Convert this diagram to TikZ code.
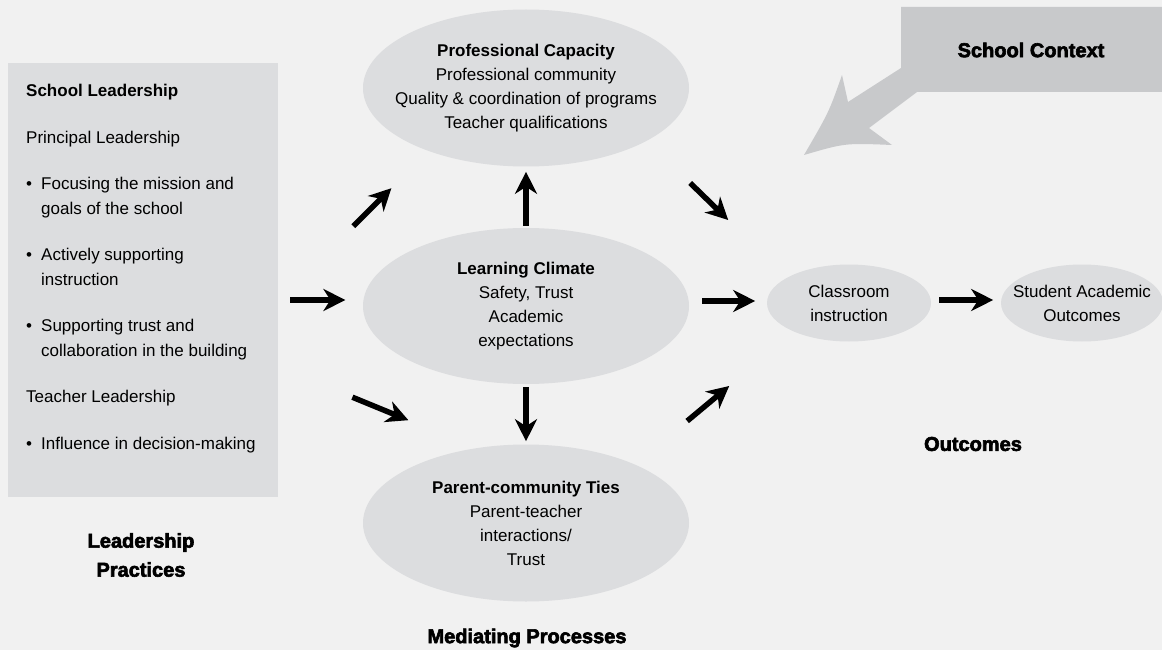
\documentclass[tikz,border=0pt]{standalone}
\usepackage{fontspec}
\setmainfont{Liberation Sans}
\newfontfamily\heavyfont{Liberation Sans}[BoldFeatures={FakeBold=3}]
\usetikzlibrary{shapes.geometric,arrows.meta}
\definecolor{bggray}{HTML}{F1F1F1}
\definecolor{ovalgray}{HTML}{DCDDDF}
\definecolor{ctxgray}{HTML}{C8C9CB}
\tikzset{oval/.style={ellipse,fill=ovalgray,inner sep=0pt}}
\tikzset{lbox/.style={fill=ovalgray,inner sep=0pt}}
\tikzset{txt/.style={align=center,inner sep=0pt,font=\fontsize{17}{24}\selectfont}}
\tikzset{head/.style={align=center,inner sep=0pt,font=\heavyfont\bfseries\fontsize{20}{29}\selectfont}}
\tikzset{flow/.style={line width=5.5pt,-{Stealth[length=22pt,width=22pt,inset=7pt]}}}
\newcommand\bul{\makebox[15pt][l]{\textbullet}}

\begin{document}
\begin{tikzpicture}[x=1pt,y=-1pt]
    \fill[bggray] (0,0) rectangle (1162,650);
    \useasboundingbox (0,0) rectangle (1162,650);

    % school context
    \fill[ctxgray] (1162,7) -- (901,7) -- (901,68) -- (848,102) -- (842,75)
      .. controls (829,112) .. (804,155) .. controls (845,143) .. (892,145)
      -- (869,128) -- (917,92) -- (1162,92) -- cycle;
    \node[head] (ctxhead) at (1031,50) {School Context};

    % leadership practices
    \node[lbox, anchor=north west, minimum width=270, minimum height=434] (box) at (8,63) {};
    \node[anchor=north west, inner sep=0pt, align=left, font=\fontsize{17}{24.5}\selectfont] (boxtext) at (26,84) {%
      \textbf{School Leadership}\\[22pt]
      Principal Leadership\\[22pt]
      \bul Focusing the mission and\\
      \hspace*{15pt}goals of the school\\[22pt]
      \bul Actively supporting\\
      \hspace*{15pt}instruction\\[22pt]
      \bul Supporting trust and\\
      \hspace*{15pt}collaboration in the building\\[22pt]
      Teacher Leadership\\[22pt]
      \bul Influence in decision-making};
    \node[head] (leadhead) at (141,555) {Leadership\\Practices};

    % mediating processes
    \node[oval, minimum width=326, minimum height=157] (capacity) at (526,88) {};
    \node[txt] (captext) at (capacity) {\textbf{Professional Capacity}\\Professional community\\Quality \& coordination of programs\\Teacher qualifications};
    \node[oval, minimum width=326, minimum height=156] (climate) at (526,306) {};
    \node[txt] (climtext) at (climate) {\textbf{Learning Climate}\\Safety, Trust\\Academic\\expectations};
    \node[oval, minimum width=326, minimum height=157] (parent) at (526,523) {};
    \node[txt] (partext) at (parent) {\textbf{Parent-community Ties}\\Parent-teacher\\interactions/\\Trust};
    \node[head] (medhead) at (527,638) {Mediating Processes};

    % outcomes
    \node[oval, minimum width=164, minimum height=77] (classroom) at (849,303) {};
    \node[txt] (clstext) at (classroom) {Classroom\\instruction};
    \node[oval, minimum width=162, minimum height=77] (student) at (1082,303) {};
    \node[txt] (stutext) at (student) {Student Academic\\Outcomes};
    \node[head] (outhead) at (973,444) {Outcomes};

    % arrows
    \draw[flow] (box.east |- climate.west) ++(12,-6) -- ++(55,0);
    \draw[flow] (box.east) ++(75,-54) -- ++(38,-38);
    \draw[flow] (box.east) ++(74,117) -- ++(56,23);
    \draw[flow] (climate.north) ++(0,-2) -- ++(0,-54);
    \draw[flow] (climate.south) ++(0,3) -- ++(0,54);
    \draw[flow] (climate.east) ++(13,-5) -- ++(53,0);
    \draw[flow] (capacity.east) ++(1,95) -- ++(38,37);
    \draw[flow] (parent.east) ++(-2,-102) -- ++(42,-35);
    \draw[flow] (classroom.east) ++(8,-3) -- ++(54,0);
\end{tikzpicture}
\end{document}
